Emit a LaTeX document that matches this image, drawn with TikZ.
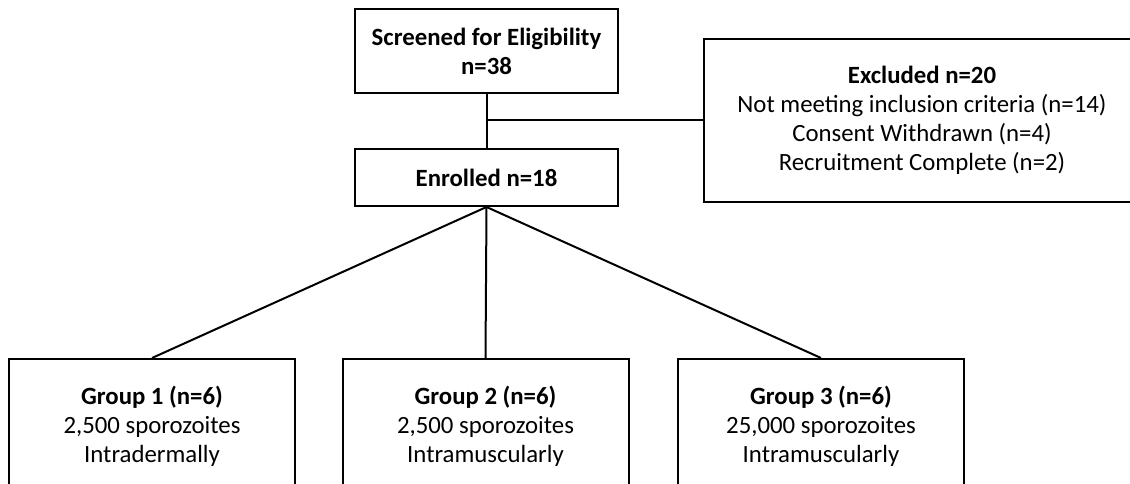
\documentclass[tikz,border=0pt]{standalone}
\usepackage{fontspec}
\setmainfont{Carlito}
\usepackage{tikz}

\begin{document}
\begin{tikzpicture}[x=1pt,y=-1pt]
  \tikzstyle{box}=[draw,line width=2pt,inner sep=0pt,align=center,font=\fontsize{24.8}{29}\selectfont]
  \tikzstyle{link}=[line width=2pt]
  \useasboundingbox (0,0) rectangle (1130,484);

  \draw (486.5,51) node[box,minimum width=263pt,minimum height=84pt] (Screened)
    {\textbf{Screened for Eligibility}\\\textbf{n=38}};
  \draw (486.5,177.5) node[box,minimum width=263pt,minimum height=57pt] (Enrolled)
    {\textbf{Enrolled n=18}};
  \draw (922,120.5) node[box,minimum width=436pt,minimum height=163pt] (Excluded)
    {\textbf{Excluded n=20}\\Not meeting inclusion criteria (n=14)\\Consent Withdrawn (n=4)\\Recruitment Complete (n=2)};

  \draw (152,426) node[box,minimum width=286pt,minimum height=134pt] (GroupA)
    {\textbf{Group 1 (n=6)}\\2,500 sporozoites\\Intradermally};
  \draw (485.5,426) node[box,minimum width=286pt,minimum height=134pt] (GroupB)
    {\textbf{Group 2 (n=6)}\\2,500 sporozoites\\Intramuscularly};
  \draw (821,426) node[box,minimum width=286pt,minimum height=134pt] (GroupC)
    {\textbf{Group 3 (n=6)}\\25,000 sporozoites\\Intramuscularly};

  \coordinate (Split) at (Screened.south |- Excluded.west);

  \path[link] (Screened) edge (Enrolled);
  \path[link] (Split) edge (Excluded);

  \path[link] (Enrolled.south) edge (GroupA.north);
  \path[link] (Enrolled.south) edge (GroupB.north);
  \path[link] (Enrolled.south) edge (GroupC.north);

\end{tikzpicture}
\end{document}
